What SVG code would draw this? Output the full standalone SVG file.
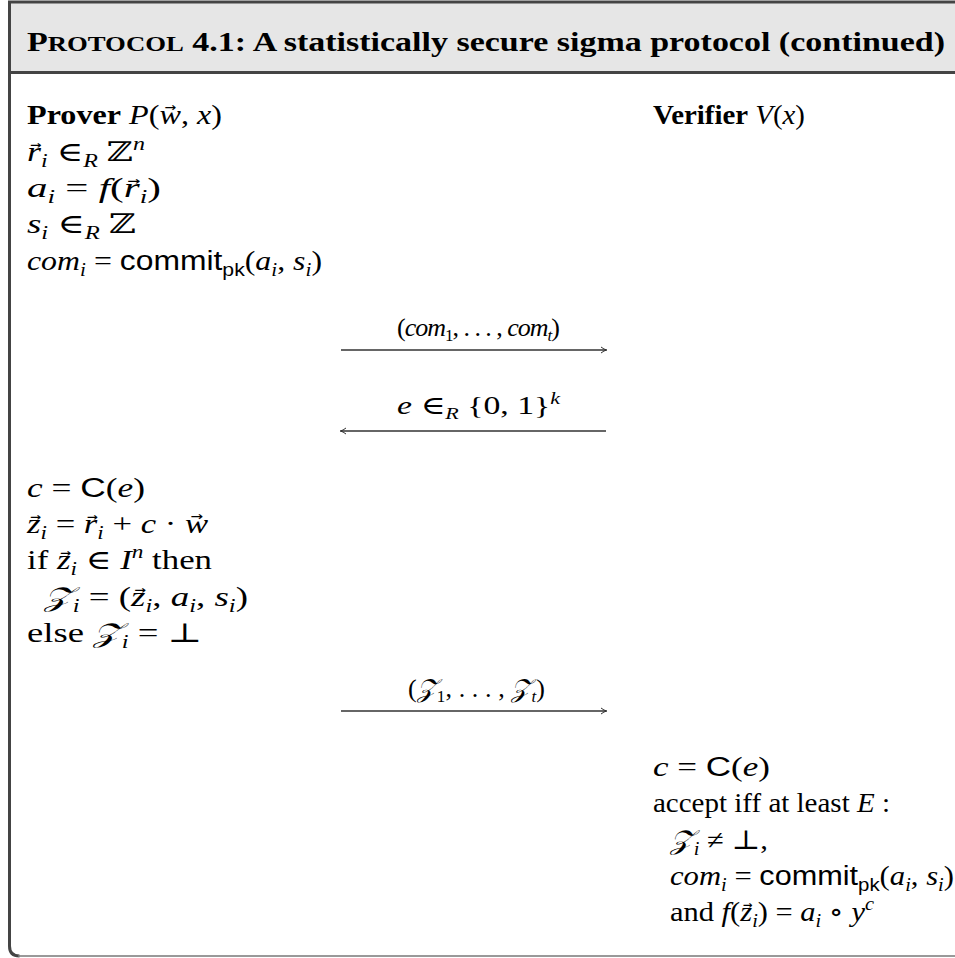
<svg xmlns="http://www.w3.org/2000/svg" width="955" height="958" viewBox="0 0 955 958">
<style>
text{font-family:"Liberation Serif","DejaVu Serif",serif;font-size:27px;fill:#000}
.i{font-style:italic}
.b{font-weight:bold}
.sf{font-family:"Liberation Sans","DejaVu Sans",sans-serif;font-style:normal}
.s{font-size:18px}
.v{font-family:"DejaVu Sans Mono",monospace;font-size:14px;font-style:normal}
.vw{font-family:"DejaVu Sans Mono",monospace;font-size:16px;font-style:normal}
.lab{font-size:26px}
.ls{font-size:17px}
.h{font-size:28px;font-weight:bold}
.hs{font-size:22px}
.conn{stroke:#333;stroke-width:1.3;fill:none}
</style>
<defs>
<marker id="ah" markerWidth="8" markerHeight="8" refX="6" refY="4" orient="auto" markerUnits="userSpaceOnUse">
<path d="M1,1 Q4,3.5 7,4 Q4,4.5 1,7" fill="none" stroke="#333" stroke-width="1"/>
</marker>
</defs>
<g id="frame">
<rect x="10" y="3" width="945" height="69" fill="#e6e6e6"/>
<line x1="8" y1="2" x2="955" y2="2" stroke="#444" stroke-width="3"/>
<line x1="10" y1="72.5" x2="955" y2="72.5" stroke="#444" stroke-width="3"/>
<path d="M9.5,1 V946 Q9.5,956 19.5,956" fill="none" stroke="#444" stroke-width="3"/>
<line x1="18" y1="956" x2="955" y2="956" stroke="#777" stroke-width="1.5"/>
</g>
<g id="header">
<text x="27" y="51" class="h" textLength="918" lengthAdjust="spacingAndGlyphs">P<tspan class="hs">ROTOCOL</tspan> 4.1: A statistically secure sigma protocol (continued)</text>
</g>
<g id="prover">
<text x="27" y="124" textLength="195" lengthAdjust="spacingAndGlyphs"><tspan class="b">Prover</tspan> <tspan class="i">P</tspan>(<tspan class="i">w</tspan><tspan class="vw" dx="-13.5" dy="-12.5">→</tspan><tspan dx="3.9" dy="12.5">, </tspan><tspan class="i">x</tspan>)</text>
<text x="27" y="161" textLength="118" lengthAdjust="spacingAndGlyphs"><tspan class="i">r</tspan><tspan class="v" dx="-8" dy="-12.5">→</tspan><tspan class="i s" dx="-0.4" dy="18.5">i</tspan><tspan dy="-6"> ∈</tspan><tspan class="i s" dy="6">R</tspan><tspan dy="-6"> ℤ</tspan><tspan class="i s" dy="-11">n</tspan></text>
<text x="27" y="197" textLength="134" lengthAdjust="spacingAndGlyphs"><tspan class="i">a</tspan><tspan class="i s" dy="6">i</tspan><tspan dy="-6"> = </tspan><tspan class="i">f</tspan>(<tspan class="i">r</tspan><tspan class="v" dx="-8" dy="-12.5">→</tspan><tspan class="i s" dx="-0.4" dy="18.5">i</tspan><tspan dy="-6">)</tspan></text>
<text x="27" y="233" textLength="109" lengthAdjust="spacingAndGlyphs"><tspan class="i">s</tspan><tspan class="i s" dy="6">i</tspan><tspan dy="-6"> ∈</tspan><tspan class="i s" dy="6">R</tspan><tspan dy="-6"> ℤ</tspan></text>
<text x="27" y="270" textLength="295" lengthAdjust="spacingAndGlyphs"><tspan class="i">com</tspan><tspan class="i s" dy="6">i</tspan><tspan dy="-6"> = </tspan><tspan class="sf">commit</tspan><tspan class="sf s" dy="6">pk</tspan><tspan dy="-6">(</tspan><tspan class="i">a</tspan><tspan class="i s" dy="6">i</tspan><tspan dy="-6">, </tspan><tspan class="i">s</tspan><tspan class="i s" dy="6">i</tspan><tspan dy="-6">)</tspan></text>
<text x="27" y="497" textLength="118" lengthAdjust="spacingAndGlyphs"><tspan class="i">c</tspan> = <tspan class="sf">C</tspan>(<tspan class="i">e</tspan>)</text>
<text x="27" y="533" textLength="181" lengthAdjust="spacingAndGlyphs"><tspan class="i">z</tspan><tspan class="v" dx="-8" dy="-12.5">→</tspan><tspan class="i s" dx="-0.4" dy="18.5">i</tspan><tspan dy="-6"> = </tspan><tspan class="i">r</tspan><tspan class="v" dx="-8" dy="-12.5">→</tspan><tspan class="i s" dx="-0.4" dy="18.5">i</tspan><tspan dy="-6"> + </tspan><tspan class="i">c</tspan> · <tspan class="i">w</tspan><tspan class="vw" dx="-13.5" dy="-12.5">→</tspan></text>
<text x="27" y="569" textLength="185" lengthAdjust="spacingAndGlyphs">if <tspan class="i">z</tspan><tspan class="v" dx="-8" dy="-12.5">→</tspan><tspan class="i s" dx="-0.4" dy="18.5">i</tspan><tspan dy="-6"> ∈ </tspan><tspan class="i">I</tspan><tspan class="i s" dy="-11">n</tspan><tspan dy="11"> then</tspan></text>
<text x="44" y="606" textLength="204" lengthAdjust="spacingAndGlyphs"><tspan class="i">𝒵</tspan><tspan class="i s" dy="6">i</tspan><tspan dy="-6"> = (</tspan><tspan class="i">z</tspan><tspan class="v" dx="-8" dy="-12.5">→</tspan><tspan class="i s" dx="-0.4" dy="18.5">i</tspan><tspan dy="-6">, </tspan><tspan class="i">a</tspan><tspan class="i s" dy="6">i</tspan><tspan dy="-6">, </tspan><tspan class="i">s</tspan><tspan class="i s" dy="6">i</tspan><tspan dy="-6">)</tspan></text>
<text x="27" y="642" textLength="175" lengthAdjust="spacingAndGlyphs">else <tspan class="i">𝒵</tspan><tspan class="i s" dy="6">i</tspan><tspan dy="-6"> = ⊥</tspan></text>
</g>
<g id="verifier">
<text x="653" y="124" textLength="152" lengthAdjust="spacingAndGlyphs"><tspan class="b">Verifier</tspan> <tspan class="i">V</tspan>(<tspan class="i">x</tspan>)</text>
<text x="653" y="776" textLength="117" lengthAdjust="spacingAndGlyphs"><tspan class="i">c</tspan> = <tspan class="sf">C</tspan>(<tspan class="i">e</tspan>)</text>
<text x="653" y="812" textLength="237" lengthAdjust="spacingAndGlyphs">accept iff at least <tspan class="i">E</tspan> :</text>
<text x="670" y="849" textLength="98" lengthAdjust="spacingAndGlyphs"><tspan class="i">𝒵</tspan><tspan class="i s" dy="6">i</tspan><tspan dy="-6"> ≠ ⊥,</tspan></text>
<text x="670" y="885" textLength="284" lengthAdjust="spacingAndGlyphs"><tspan class="i">com</tspan><tspan class="i s" dy="6">i</tspan><tspan dy="-6"> = </tspan><tspan class="sf">commit</tspan><tspan class="sf s" dy="6">pk</tspan><tspan dy="-6">(</tspan><tspan class="i">a</tspan><tspan class="i s" dy="6">i</tspan><tspan dy="-6">, </tspan><tspan class="i">s</tspan><tspan class="i s" dy="6">i</tspan><tspan dy="-6">)</tspan></text>
<text x="670" y="921" textLength="204" lengthAdjust="spacingAndGlyphs">and <tspan class="i">f</tspan>(<tspan class="i">z</tspan><tspan class="v" dx="-8" dy="-12.5">→</tspan><tspan class="i s" dx="-0.4" dy="18.5">i</tspan><tspan dy="-6">) = </tspan><tspan class="i">a</tspan><tspan class="i s" dy="6">i</tspan><tspan dy="-6"> ∘ </tspan><tspan class="i">y</tspan><tspan class="i s" dy="-11">c</tspan></text>
</g>
<g id="connectors">
<line class="conn" x1="341" y1="350" x2="606" y2="350" marker-end="url(#ah)"/>
<line class="conn" x1="606" y1="431" x2="341" y2="431" marker-end="url(#ah)"/>
<line class="conn" x1="341" y1="711" x2="606" y2="711" marker-end="url(#ah)"/>
</g>
<g id="labels">
<text x="397" y="336" class="lab" textLength="163" lengthAdjust="spacing">(<tspan class="i">com</tspan><tspan class="ls" dy="5">1</tspan><tspan dy="-5">, . . . , </tspan><tspan class="i">com</tspan><tspan class="i ls" dy="5">t</tspan><tspan dy="-5">)</tspan></text>
<text x="397" y="414" class="lab" textLength="163" lengthAdjust="spacingAndGlyphs"><tspan class="i">e</tspan> ∈<tspan class="i ls" dy="5">R</tspan><tspan dy="-5"> {0, 1}</tspan><tspan class="i ls" dy="-10">k</tspan></text>
<text x="408" y="697" class="lab" textLength="137" lengthAdjust="spacing">(<tspan class="i">𝒵</tspan><tspan class="ls" dy="5">1</tspan><tspan dy="-5">, . . . , </tspan><tspan class="i">𝒵</tspan><tspan class="i ls" dy="5">t</tspan><tspan dy="-5">)</tspan></text>
</g>
</svg>
